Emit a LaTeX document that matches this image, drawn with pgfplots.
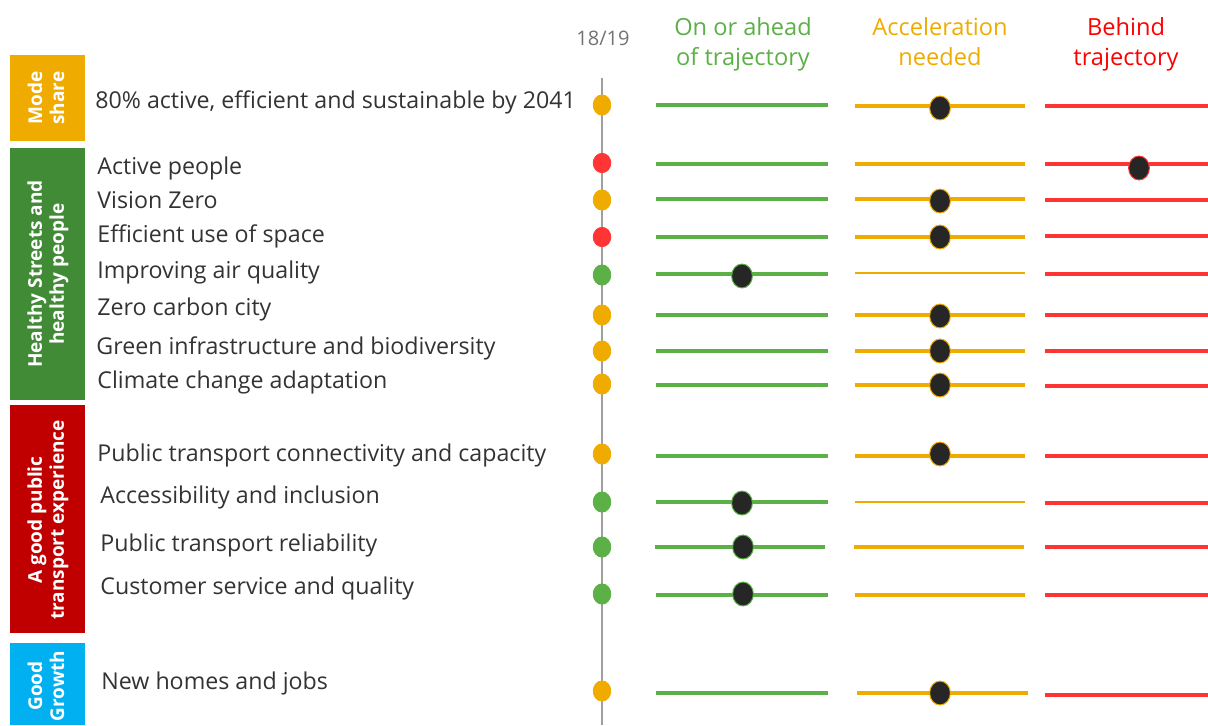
\documentclass[border=0pt]{standalone}
\usepackage{pgfplots}
\pgfplotsset{compat=1.18}
\usepackage{fontspec}
\setmainfont{Open Sans}

\definecolor{ongreen}{HTML}{5BB046}
\definecolor{accorange}{HTML}{F0AB00}
\definecolor{behindred}{HTML}{FF3535}
\definecolor{hdrred}{HTML}{FF0000}
\definecolor{boxgreen}{HTML}{418A36}
\definecolor{boxred}{HTML}{C00000}
\definecolor{boxblue}{HTML}{00B0F0}
\definecolor{dotblack}{HTML}{262626}
\definecolor{labelgray}{HTML}{333333}

\begin{document}
\begin{tikzpicture}
\begin{axis}[
    name=ax,
    width=604pt, height=362.5pt,
    scale only axis,
    hide axis,
    xmin=0, xmax=1208,
    ymin=0, ymax=725,
    y dir=reverse,
    clip=false,
    unbounded coords=jump,
]
% category boxes
\fill[accorange] (axis cs:10,55) rectangle (axis cs:85,141);
\fill[boxgreen] (axis cs:10,148) rectangle (axis cs:85,400);
\fill[boxred] (axis cs:10,405) rectangle (axis cs:85,633);
\fill[boxblue] (axis cs:10,643) rectangle (axis cs:85,725);
\begin{scope}[every node/.style={rotate=90, text=white, font=\bfseries\fontsize{9.5}{11}\selectfont, align=center}]
\node at (axis cs:46,98) {Mode\\share};
\node at (axis cs:48,274) {Healthy Streets and\\healthy people};
\node at (axis cs:48,520) {A good public\\transport experience};
\node at (axis cs:46,686) {Good\\Growth};
\end{scope}

% headers
\node[text=gray!90!black, font=\fontsize{10}{12}\selectfont] at (axis cs:603,38) {18/19};
\begin{scope}[every node/.style={anchor=base, inner sep=0pt, font=\fontsize{11.8}{15}\selectfont}]
\node[text=ongreen] at (axis cs:743,35) {On or ahead};
\node[text=ongreen] at (axis cs:743,65) {of trajectory};
\node[text=accorange] at (axis cs:940,35) {Acceleration};
\node[text=accorange] at (axis cs:940,65) {needed};
\node[text=hdrred] at (axis cs:1126,35) {Behind};
\node[text=hdrred] at (axis cs:1126,65) {trajectory};
\end{scope}

% row labels
\begin{scope}[every node/.style={anchor=west, inner sep=0pt, text=labelgray, font=\fontsize{11.6}{13}\selectfont}]
\node at (axis cs:95,102) {80\% active, efficient and sustainable by 2041};
\node at (axis cs:97,168) {Active people};
\node at (axis cs:97,200) {Vision Zero};
\node at (axis cs:97,236) {Efficient use of space};
\node at (axis cs:97,272) {Improving air quality};
\node at (axis cs:97,309) {Zero carbon city};
\node at (axis cs:96,348) {Green infrastructure and biodiversity};
\node at (axis cs:97,382) {Climate change adaptation};
\node at (axis cs:97,455) {Public transport connectivity and capacity};
\node at (axis cs:100,497) {Accessibility and inclusion};
\node at (axis cs:100,545) {Public transport reliability};
\node at (axis cs:100,588) {Customer service and quality};
\node at (axis cs:101,683) {New homes and jobs};
\end{scope}

% timeline
\addplot[color=gray!75, line width=0.6pt] coordinates {(602,78) (602,725)};

% trajectory segments
\addplot[ongreen, line width=2pt] coordinates {
(656,105) (828,105) (nan,nan)
(656,164) (828,164) (nan,nan)
(656,199) (828,199) (nan,nan)
(656,237) (828,237) (nan,nan)
(656,274) (828,274) (nan,nan)
(656,315) (828,315) (nan,nan)
(656,351) (828,351) (nan,nan)
(656,385) (828,385) (nan,nan)
(656,456) (828,456) (nan,nan)
(656,502) (828,502) (nan,nan)
(655,547) (825,547) (nan,nan)
(656,595) (828,595) (nan,nan)
(656,693) (828,693)
};
\addplot[accorange, line width=2pt] coordinates {
(855,106) (1025,106) (nan,nan)
(855,164) (1025,164) (nan,nan)
(855,199) (1025,199) (nan,nan)
(855,237) (1025,237) (nan,nan)
(855,315) (1025,315) (nan,nan)
(855,351) (1025,351) (nan,nan)
(855,385) (1025,385) (nan,nan)
(855,456) (1025,456) (nan,nan)
(854,547) (1024,547) (nan,nan)
(855,595) (1025,595) (nan,nan)
(857,693) (1028,693)
};
\addplot[accorange, line width=1.2pt] coordinates {
(855,273) (1025,273) (nan,nan)
(855,502) (1025,502)
};
\addplot[behindred, line width=2pt] coordinates {
(1045,106) (1208,106) (nan,nan)
(1045,164) (1208,164) (nan,nan)
(1045,200) (1208,200) (nan,nan)
(1045,236) (1208,236) (nan,nan)
(1045,274) (1208,274) (nan,nan)
(1045,315) (1208,315) (nan,nan)
(1045,351) (1208,351) (nan,nan)
(1045,386) (1208,386) (nan,nan)
(1045,456) (1208,456) (nan,nan)
(1045,503) (1208,503) (nan,nan)
(1045,547) (1208,547) (nan,nan)
(1045,595) (1208,595) (nan,nan)
(1045,695) (1208,695)
};

% 18/19 status
\addplot[only marks, mark=*, mark size=4.4pt, color=accorange, mark options={yscale=1.15}]
coordinates {(602,105) (602,200) (602,315) (602,351) (602,384) (602,454) (602,691)};
\addplot[only marks, mark=*, mark size=4.4pt, color=behindred, mark options={yscale=1.1}]
coordinates {(602,163) (602,237)};
\addplot[only marks, mark=*, mark size=4.4pt, color=ongreen, mark options={yscale=1.15}]
coordinates {(602,275) (602,502) (602,547) (602,594)};

% current position
\addplot[only marks, mark=*, mark size=5.2pt, draw=ongreen, fill=dotblack, mark options={yscale=1.15, line width=0.5pt}]
coordinates {(742,276) (742,503) (743,547) (743,594)};
\addplot[only marks, mark=*, mark size=5.2pt, draw=accorange, fill=dotblack, mark options={yscale=1.15, line width=0.5pt}]
coordinates {(940,108) (940,201) (940,237) (940,316) (940,351) (940,385) (940,454) (940,693)};
\addplot[only marks, mark=*, mark size=5.2pt, draw=behindred, fill=dotblack, mark options={yscale=1.15, line width=0.5pt}]
coordinates {(1139,168)};
\end{axis}
\pgfresetboundingbox
\path[use as bounding box] (ax.south west) rectangle (ax.north east);
\end{tikzpicture}
\end{document}
